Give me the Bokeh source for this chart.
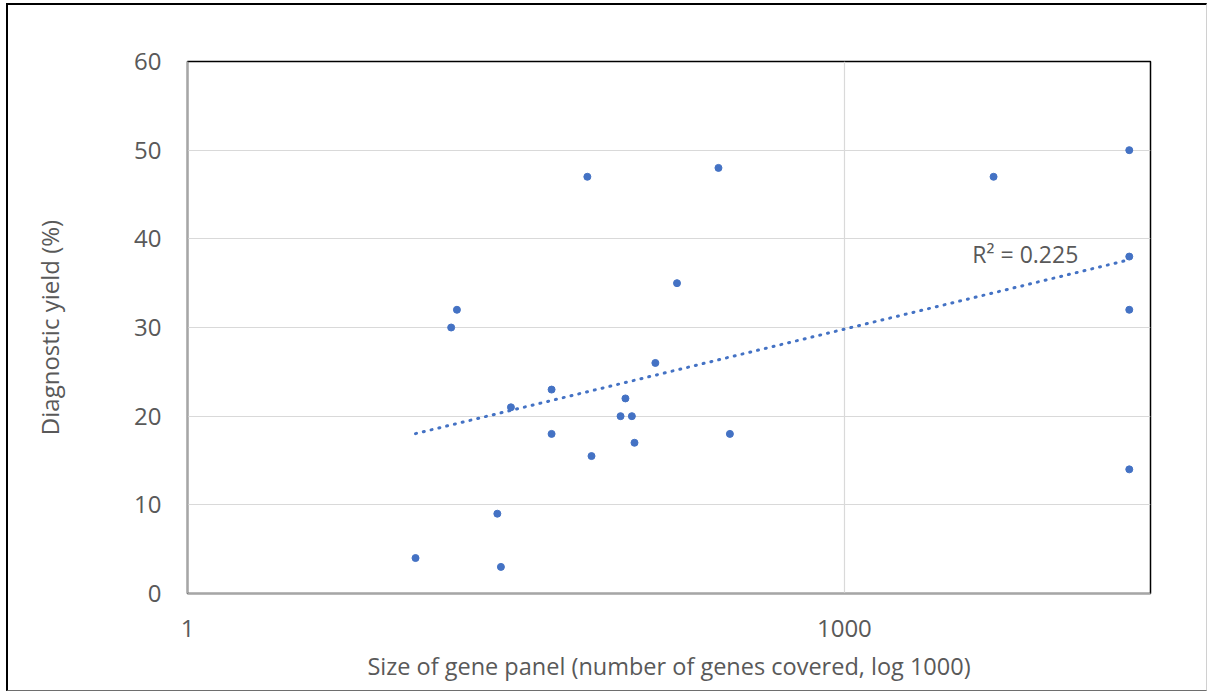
import numpy as np
from bokeh.plotting import figure
from bokeh.models import FixedTicker, Label, ColumnDataSource, BasicTickFormatter
from bokeh.embed import file_html
from bokeh.resources import INLINE

# ---- data ----
genes = [11, 16, 17, 30, 26, 27, 46, 46, 70, 95, 107, 100, 110, 137, 172,
         67, 266, 300, 4800, 20000, 20000, 20000, 20000]
yield_pct = [4, 30, 32, 21, 9, 3, 23, 18, 15.5, 20, 20, 22, 17, 26, 35,
             47, 48, 18, 47, 50, 38, 32, 14]
x_ticks = [1, 1000]
y_ticks = [0, 10, 20, 30, 40, 50, 60]
x_title = "Size of gene panel (number of genes covered, log 1000)"
y_title = "Diagnostic yield (%)"
r2_text = "R\u00b2 = 0.225"

BLUE = "#4472C4"
TXT = "#595959"
FONT = "Open Sans"

# canvas starts at (8, 5) of the window because of the outer border
p = figure(width=1201, height=688, x_axis_type="log", x_range=(1, 25000),
           y_range=(0, 60), output_backend="svg", toolbar_location=None,
           min_border_left=179, min_border_right=59, min_border_top=56,
           min_border_bottom=100)
p.styles = {"margin-left": "6px", "margin-top": "3px",
            "border-left": "2px solid black", "border-top": "2px solid black",
            "border-right": "1px solid #d0d0d0", "border-bottom": "1px solid #6e6e6e"}
p.background_fill_color = "white"
p.border_fill_color = "white"
p.outline_line_color = "black"
p.outline_line_width = 1.5

# axes
p.xaxis.ticker = FixedTicker(ticks=x_ticks)
p.xaxis.formatter = BasicTickFormatter()
p.xaxis.major_label_overrides = {1: "1", 1000: "1000"}
p.yaxis.ticker = FixedTicker(ticks=y_ticks)
for ax in (p.xaxis[0], p.yaxis[0]):
    ax.axis_line_color = "#a6a6a6"
    ax.axis_line_width = 1.5
    ax.major_tick_line_color = None
    ax.minor_tick_line_color = None
    ax.major_label_text_color = TXT
    ax.major_label_text_font = FONT
    ax.major_label_text_font_size = "24px"
    ax.axis_label_text_color = TXT
    ax.axis_label_text_font = FONT
    ax.axis_label_text_font_style = "normal"
p.xaxis.axis_label_text_font_size = "23.5px"
p.yaxis.axis_label_text_font_size = "24px"
p.xaxis.axis_label = x_title
p.yaxis.axis_label = y_title
p.xaxis.major_label_standoff = 20
p.xaxis.axis_label_standoff = 10
p.yaxis.major_label_standoff = 20
p.yaxis.axis_label_standoff = 65

p.xgrid.grid_line_color = "#d9d9d9"
p.ygrid.grid_line_color = "#d9d9d9"
p.xgrid.grid_line_width = 1.2
p.ygrid.grid_line_width = 1.2

# trendline (logarithmic fit computed from the data)
gx = np.array(genes, dtype=float)
gy = np.array(yield_pct, dtype=float)
a, b = np.polyfit(np.log(gx), gy, 1)
tx = np.array([gx.min(), gx.max()])
ty = a * np.log(tx) + b
p.line(tx, ty, line_color=BLUE, line_width=3, line_dash="1 7", line_cap="round")

src = ColumnDataSource(dict(x=genes, y=yield_pct))
p.scatter("x", "y", source=src, size=7, fill_color=BLUE, line_color=BLUE)

p.add_layout(Label(x=3840, y=38.3, text=r2_text, text_font=FONT,
                   text_font_size="23px", text_color=TXT,
                   text_align="left", text_baseline="alphabetic"))

open("out.html", "w").write(file_html(p, INLINE))
